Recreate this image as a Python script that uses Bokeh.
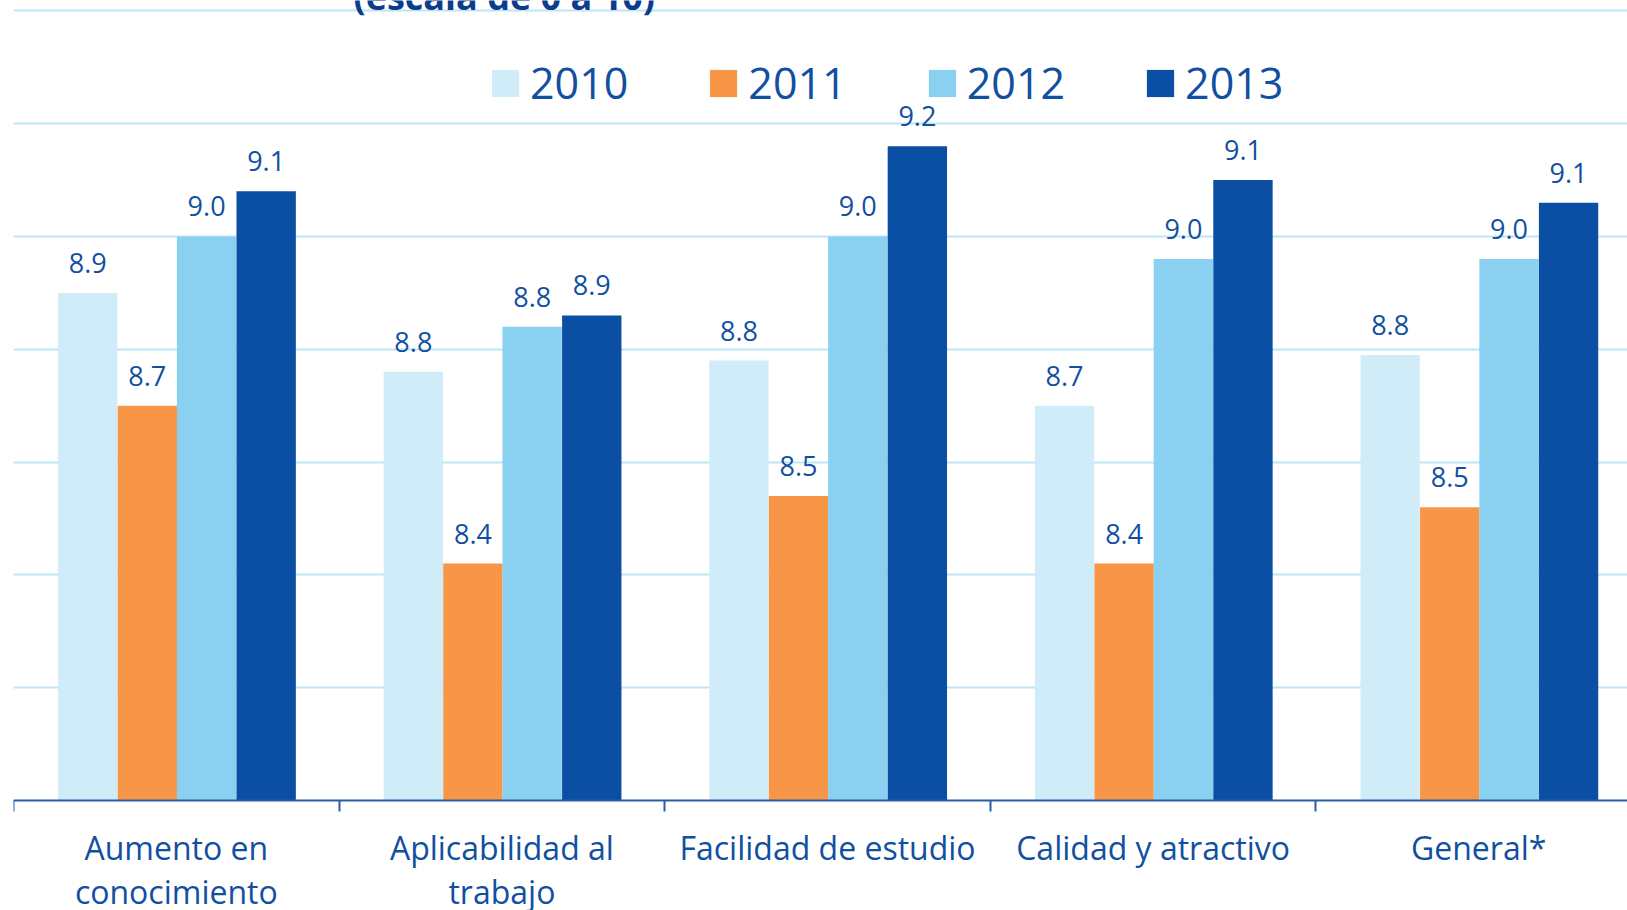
from bokeh.plotting import figure
from bokeh.models import (ColumnDataSource, Range1d, FixedTicker, Legend, LegendItem, Label)
from bokeh.core.properties import value
from bokeh.embed import file_html
from bokeh.resources import INLINE

# ---- data ----
categories = ["Aumento en\nconocimiento", "Aplicabilidad al\ntrabajo",
              "Facilidad de estudio", "Calidad y atractivo", "General*"]
years = ["2010", "2011", "2012", "2013"]
v2010 = [8.90, 8.76, 8.78, 8.70, 8.79]
v2011 = [8.70, 8.42, 8.54, 8.42, 8.52]
v2012 = [9.00, 8.84, 9.00, 8.96, 8.96]
v2013 = [9.08, 8.86, 9.16, 9.10, 9.06]
series = [v2010, v2011, v2012, v2013]
colors = ["#D1ECF9", "#F79646", "#8AD1F1", "#0A4FA3"]
grid_values = [8.2, 8.4, 8.6, 8.8, 9.0, 9.2, 9.4]
baseline_value = 8.0
title_text = "(escala de 0 a 10)"

FONT = "Open Sans"
TXT = "#1150A0"
AX = "#2A5CA8"

p = figure(width=1627, height=910, output_backend="svg", toolbar_location=None,
           x_range=Range1d(0, 4.957), y_range=Range1d(7.805, 9.4184),
           min_border_left=13, min_border_right=0, min_border_top=0, min_border_bottom=0)
p.outline_line_color = None
p.background_fill_color = "white"
p.border_fill_color = "white"

p.yaxis.visible = False
p.xgrid.visible = False
p.ygrid.ticker = FixedTicker(ticks=grid_values)
p.ygrid.grid_line_color = "#BDE5F8"
p.ygrid.grid_line_width = 2

bar_w = 0.1823
offsets = [0.228, 0.411, 0.593, 0.776]
items = []
for k, (yr, vals, col) in enumerate(zip(years, series, colors)):
    xs = [i + offsets[k] for i in range(len(categories))]
    src = ColumnDataSource(dict(x=xs, top=vals, lab=[f"{v:.1f}" for v in vals]))
    r = p.vbar(x="x", top="top", bottom=baseline_value, width=bar_w, source=src,
               fill_color=col, line_color=None)
    p.text(x="x", y="top", text="lab", source=src, text_align="center",
           text_baseline="alphabetic", y_offset=-30, text_color=TXT,
           text_font=value(FONT), text_font_size="27px")
    items.append(LegendItem(label=yr, renderers=[r]))

legend = Legend(items=items, orientation="horizontal", location=(475, 798),
                glyph_width=34, glyph_height=34, label_standoff=8, spacing=78,
                label_width=98, padding=0, margin=0,
                label_text_font=FONT, label_text_font_size="43px",
                label_text_color=TXT, border_line_color=None,
                background_fill_alpha=0)
p.add_layout(legend, "center")

ax = p.xaxis[0]
ax.fixed_location = baseline_value
ax.ticker = FixedTicker(ticks=[0.5, 1.5, 2.5, 3.5, 4.5], minor_ticks=[0, 1, 2, 3, 4, 5])
ax.major_label_overrides = {i + 0.5: c for i, c in enumerate(categories)}
ax.axis_line_color = AX
ax.axis_line_width = 2
ax.major_tick_line_color = None
ax.major_tick_out = 0
ax.major_tick_in = 0
ax.minor_tick_line_color = AX
ax.minor_tick_line_width = 2
ax.minor_tick_out = 11
ax.minor_tick_in = 0
ax.major_label_standoff = 14
ax.major_label_text_font = FONT
ax.major_label_text_font_size = "32px"
ax.major_label_text_color = TXT
ax.major_label_text_line_height = 1.03

title = Label(x=1.044, y=9.4255, text=title_text, text_font=FONT,
              text_font_style="bold", text_font_size="36px", text_color="#0D3C8C",
              text_baseline="alphabetic", text_align="left")
p.add_layout(title)

open("out.html", "w").write(file_html(p, INLINE))
